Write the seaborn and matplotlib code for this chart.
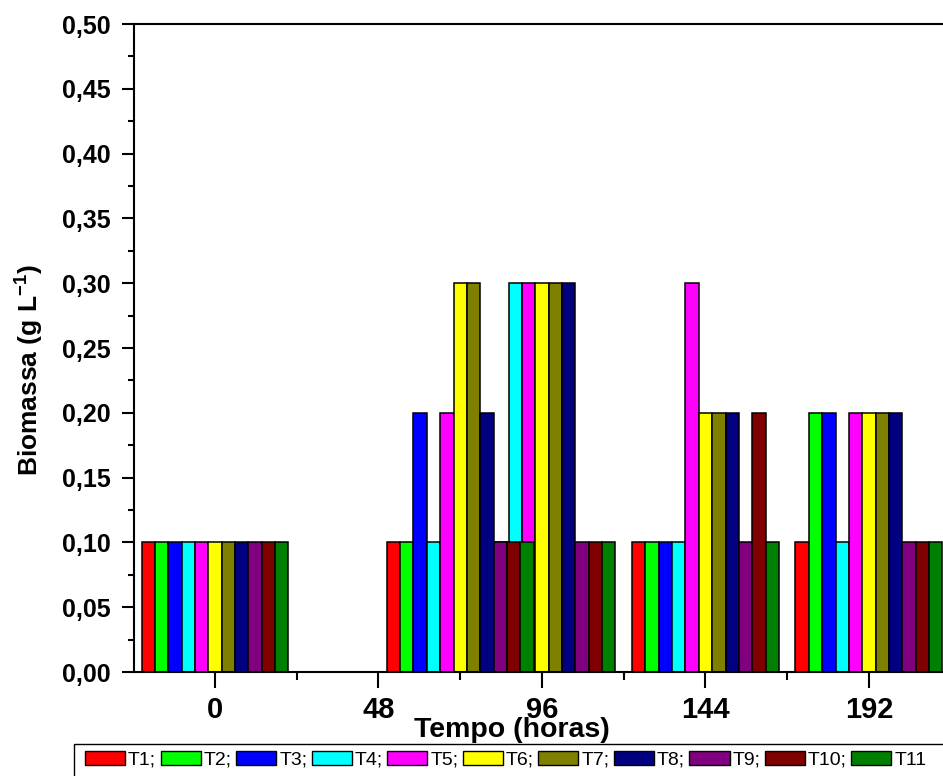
import numpy as np
import matplotlib
matplotlib.use("Agg")
import matplotlib.pyplot as plt
import seaborn as sns
from matplotlib.patches import Patch, Rectangle
from matplotlib.ticker import FixedLocator, MultipleLocator

# ---------------- data ----------------
series = ["T1", "T2", "T3", "T4", "T5", "T6", "T7", "T8", "T9", "T10", "T11"]
legend_labels = ["T1;", "T2;", "T3;", "T4;", "T5;", "T6;", "T7;", "T8;", "T9;", "T10;", "T11"]
colors = ["#FF0000", "#00FF00", "#0000FF", "#00FFFF", "#FF00FF", "#FFFF00",
          "#808000", "#000080", "#800080", "#800000", "#008000"]

group_times = [0, 72, 96, 144, 192]          # where the groups sit on the time axis
tick_positions = [0, 48, 96, 144, 192]
tick_labels = ["0", "48", "96", "144", "192"]

t1 = [0.10, 0.10, 0.10, 0.10, 0.10]
t2 = [0.10, 0.10, 0.10, 0.10, 0.20]
t3 = [0.10, 0.20, 0.10, 0.10, 0.20]
t4 = [0.10, 0.10, 0.30, 0.10, 0.10]
t5 = [0.10, 0.20, 0.30, 0.30, 0.20]
t6 = [0.10, 0.30, 0.30, 0.20, 0.20]
t7 = [0.10, 0.30, 0.30, 0.20, 0.20]
t8 = [0.10, 0.20, 0.30, 0.20, 0.20]
t9 = [0.10, 0.10, 0.10, 0.10, 0.10]
t10 = [0.10, 0.10, 0.10, 0.20, 0.10]
t11 = [0.10, 0.10, 0.10, 0.10, 0.10]
values = [t1, t2, t3, t4, t5, t6, t7, t8, t9, t10, t11]

# ---------------- style ----------------
sns.set_style("ticks", {"axes.edgecolor": "black", "xtick.color": "black",
                        "ytick.color": "black", "text.color": "black",
                        "axes.labelcolor": "black"})
plt.rcParams["font.family"] = ["Liberation Sans", "DejaVu Sans"]
plt.rcParams["mathtext.fontset"] = "custom"
plt.rcParams["mathtext.rm"] = "Liberation Sans:bold"
plt.rcParams["mathtext.it"] = "Liberation Sans:bold"
plt.rcParams["mathtext.bf"] = "Liberation Sans:bold"
plt.rcParams["mathtext.default"] = "rm"

W, H = 943, 776
fig = plt.figure(figsize=(W / 100, H / 100), dpi=100)
ax_left, ax_right, ax_bottom, ax_top = 134, 950, 672, 24
ax = fig.add_axes([ax_left / W, (H - ax_bottom) / H,
                   (ax_right - ax_left) / W, (ax_bottom - ax_top) / H])

bar_w = 3.923
n = len(series)
for i, (name, vals, col) in enumerate(zip(series, values, colors)):
    pos = np.array(group_times, dtype=float) + (i - (n - 1) / 2) * bar_w
    spacing = np.diff(np.unique(pos)).min()
    sns.barplot(x=pos, y=vals, native_scale=True, orient="x",
                width=bar_w / spacing, color=col, saturation=1,
                edgecolor="black", linewidth=1.1, errorbar=None, ax=ax)

px_per_h = 3.406
ax.set_xlim((ax_left - 215) / px_per_h, (ax_right - 215) / px_per_h)
ax.set_ylim(0, 0.5)

ax.xaxis.set_major_locator(FixedLocator(tick_positions))
ax.set_xticklabels(tick_labels)
ax.xaxis.set_minor_locator(MultipleLocator(24))
ax.yaxis.set_major_locator(MultipleLocator(0.05))
ax.yaxis.set_minor_locator(MultipleLocator(0.025))
yt = np.arange(0, 0.5001, 0.05)
ax.set_yticks(yt)
ax.set_yticklabels([f"{v:.2f}".replace(".", ",") for v in yt])

ax.set_xlabel("")
ax.set_ylabel("")

for s in ["top", "left", "bottom"]:
    ax.spines[s].set_linewidth(1.5)
    ax.spines[s].set_color("black")
ax.spines["right"].set_visible(False)

ax.tick_params(axis="x", which="major", length=11.5, width=1.5, pad=6, labelsize=21)
ax.tick_params(axis="x", which="minor", length=5.8, width=1.5)
ax.tick_params(axis="y", which="major", length=8.6, width=1.5, pad=8, labelsize=18)
ax.tick_params(axis="y", which="minor", length=4.3, width=1.5)
ax.tick_params(top=False, right=False, which="both")
for lab in ax.get_xticklabels() + ax.get_yticklabels():
    lab.set_fontweight("bold")

fig.text(512 / W, 1 - 730 / H, "Tempo (horas)", ha="center", va="center",
         fontsize=20.5, fontweight="bold")
fig.text(30 / W, 1 - 370 / H, r"Biomassa (g L$^{-1}$)", ha="center", va="center",
         rotation=90, fontsize=19, fontweight="bold")

handles = [Patch(facecolor=c, edgecolor="black", linewidth=1.0) for c in colors]
fig.legend(handles, legend_labels, ncol=n, loc="center left",
           bbox_to_anchor=(85 / W, 1 - 760 / H), frameon=False,
           borderpad=0, borderaxespad=0, fontsize=14,
           handlelength=2.06, handleheight=0.72, handletextpad=0.155,
           columnspacing=0.23)
fig.patches.append(Rectangle((74 / W, -0.05), 1.0, (H - 744) / H + 0.05,
                             transform=fig.transFigure, fill=False,
                             edgecolor="black", linewidth=1.0))

fig.savefig("out.png", dpi=100)
